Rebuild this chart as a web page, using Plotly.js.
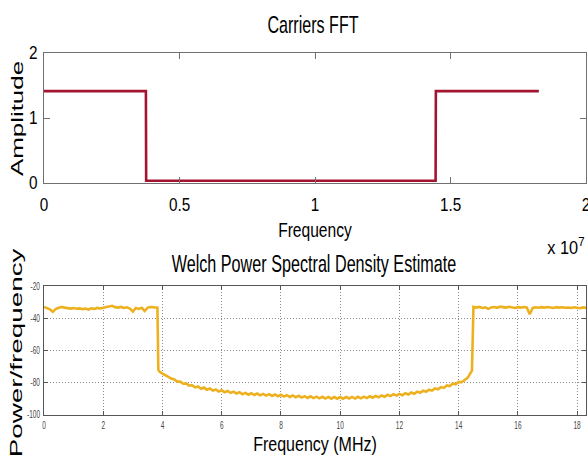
<!DOCTYPE html>
<html>
<head>
<meta charset="utf-8">
<script src="https://cdn.plot.ly/plotly-3.0.1.min.js"></script>
<style>
html,body{margin:0;padding:0;background:#fff;overflow:hidden;}
#chart{width:588px;height:459px;}
</style>
</head>
<body>
<div id="chart"></div>
<script>
// ---- Data: Carriers FFT (step spectrum) ----
const fftFreq = [0, 3.76e6, 3.77e6, 1.445e7, 1.446e7, 1.826e7];
const fftAmp  = [1.414, 1.414, 0.035, 0.035, 1.414, 1.414];
const fftTickVals = [0, 5e6, 1e7, 1.5e7, 2e7];
const fftTickText = ['0', '0.5', '1', '1.5', '2'];
const ampTickVals = [0, 1, 2];

// ---- Data: Welch PSD (MHz, dB/Hz) ----
const psdFreq = [
  0.0,0.1,0.2,0.3,0.4,0.5,0.6,0.7,0.8,0.9,1.0,1.1,1.2,1.3,1.4,1.5,1.6,1.7,1.8,1.9,
  2.0,2.1,2.2,2.3,2.4,2.5,2.6,2.7,2.8,2.9,3.0,3.1,3.2,3.3,3.4,3.5,3.6,3.7,3.8,3.83,3.86,
  3.9,4.0,4.1,4.2,4.3,4.4,4.5,4.6,4.7,4.8,4.9,5.0,5.1,5.2,5.3,5.4,5.5,5.6,5.7,5.8,5.9,
  6.0,6.1,6.2,6.3,6.4,6.5,6.6,6.7,6.8,6.9,7.0,7.1,7.2,7.3,7.4,7.5,7.6,7.7,7.8,7.9,
  8.0,8.1,8.2,8.3,8.4,8.5,8.6,8.7,8.8,8.9,9.0,9.1,9.2,9.3,9.4,9.5,9.6,9.7,9.8,9.9,
  10.0,10.1,10.2,10.3,10.4,10.5,10.6,10.7,10.8,10.9,11.0,11.1,11.2,11.3,11.4,11.5,11.6,11.7,11.8,11.9,
  12.0,12.1,12.2,12.3,12.4,12.5,12.6,12.7,12.8,12.9,13.0,13.1,13.2,13.3,13.4,13.5,13.6,13.7,13.8,13.9,
  14.0,14.1,14.2,14.3,14.4,14.45,14.5,
  14.6,14.7,14.8,14.9,15.0,15.1,15.2,15.3,15.4,15.5,15.6,15.7,15.8,15.9,
  16.0,16.1,16.2,16.3,16.4,16.5,16.6,16.7,16.8,16.9,17.0,17.1,17.2,17.3,17.4,17.5,17.6,17.7,17.8,17.9,
  18.0,18.1,18.2,18.3
];
const psdPower = [
  -33.0,-33.8,-34.5,-36.0,-34.2,-33.5,-33.0,-33.4,-33.8,-34.0,-33.7,-34.1,-33.9,-34.3,-34.0,-34.6,-33.8,-34.2,-33.6,-33.9,
  -33.5,-33.2,-33.0,-32.3,-33.1,-33.4,-33.0,-33.6,-33.2,-34.0,-35.8,-33.6,-34.2,-33.5,-35.5,-33.4,-33.0,-33.2,-33.0,-33.5,-72.0,
  -73.0,-74.3,-75.6,-76.4,-77.4,-78.0,-79.3,-79.3,-80.6,-80.4,-81.8,-81.6,-82.9,-82.3,-83.7,-83.0,-84.3,-83.6,-84.9,-84.2,-85.5,
  -84.7,-85.9,-85.1,-86.3,-85.5,-86.7,-85.9,-87.1,-86.3,-87.4,-86.5,-87.6,-86.7,-87.8,-86.9,-88.0,-87.1,-88.2,-87.3,-88.4,
  -87.5,-88.6,-87.7,-88.8,-87.9,-89.0,-88.1,-89.2,-88.3,-89.4,-88.4,-89.5,-88.6,-89.7,-88.7,-89.8,-88.8,-89.9,-88.9,-89.9,
  -88.9,-89.9,-88.9,-89.8,-88.8,-89.8,-88.7,-89.7,-88.6,-89.5,-88.4,-89.3,-88.2,-89.0,-87.9,-88.7,-87.5,-88.3,-87.1,-88.0,
  -86.9,-87.7,-86.5,-87.3,-86.1,-86.8,-85.5,-86.2,-84.9,-85.6,-84.3,-84.9,-83.5,-84.1,-82.7,-83.2,-81.7,-82.1,-80.5,-81.0,
  -79.5,-79.7,-78.1,-77.0,-74.0,-72.5,-33.0,
  -33.4,-33.0,-33.6,-33.2,-34.2,-33.3,-33.0,-33.5,-32.8,-33.1,-33.4,-32.9,-33.2,-33.6,
  -33.1,-33.4,-33.0,-33.3,-37.5,-33.6,-33.2,-33.5,-33.1,-33.4,-33.0,-33.3,-33.6,-33.1,-33.4,-33.2,-33.5,-33.3,-33.6,-33.2,
  -33.5,-33.8,-33.3,-33.6
];
const psdXTicks = [0, 2, 4, 6, 8, 10, 12, 14, 16, 18];
const psdXText = ['0', '2', '4', '6', '8', '10', '12', '14', '16', '18'];
const psdYTicks = [-100, -80, -60, -40, -20];
const psdYText = ['-100', '-80', '-60', '-40', '-20'];

const SANS = '"Liberation Sans", Arial, Helvetica, sans-serif';
const AX = '#707070';

const traces = [
  {x: fftFreq, y: fftAmp, xaxis: 'x', yaxis: 'y', type: 'scatter', mode: 'lines',
   line: {color: '#A2142F', width: 2.6}, hoverinfo: 'skip'},
  {x: psdFreq, y: psdPower, xaxis: 'x2', yaxis: 'y2', type: 'scatter', mode: 'lines',
   line: {color: '#EDB120', width: 2.6}, hoverinfo: 'skip'}
];

const layout = {
  width: 588, height: 459,
  margin: {l: 44, r: 2, t: 0, b: 0},
  paper_bgcolor: '#fff', plot_bgcolor: '#fff',
  showlegend: false,
  font: {family: SANS, color: '#000'},
  title: {text: 'Carriers FFT', font: {family: SANS, size: 24, color: '#000'},
          x: 0.5, xref: 'paper', y: 0.95, yref: 'container', yanchor: 'middle'},
  xaxis: {domain: [0, 1], anchor: 'y', range: [0, 2e7],
          tickmode: 'array', tickvals: fftTickVals, ticktext: fftTickText,
          ticks: 'inside', ticklen: 6, tickcolor: AX, tickwidth: 1,
          showline: true, linecolor: AX, linewidth: 1, mirror: 'ticks',
          showgrid: false, zeroline: false, ticklabelstandoff: 5,
          ticklabeloverflow: 'allow',
          tickfont: {family: SANS, size: 18, color: '#000'},
          title: {text: 'Frequency', font: {family: SANS, size: 20, color: '#000'}, standoff: 6}},
  yaxis: {domain: [0.6013, 0.8845], anchor: 'x', range: [0, 2],
          tickmode: 'array', tickvals: ampTickVals,
          ticks: 'inside', ticklen: 6, tickcolor: AX, tickwidth: 1,
          showline: true, linecolor: AX, linewidth: 1, mirror: 'ticks',
          showgrid: false, zeroline: false, ticklabelstandoff: 2,
          tickfont: {family: SANS, size: 18, color: '#000'},
          title: {text: 'Amplitude', font: {family: SANS, size: 16, color: '#000'}, standoff: 2}},
  xaxis2: {domain: [0, 1], anchor: 'y2', range: [0, 18.3],
           tickmode: 'array', tickvals: psdXTicks, ticktext: psdXText,
           ticks: 'inside', ticklen: 4, tickcolor: '#555', tickwidth: 1,
           showline: true, linecolor: '#555', linewidth: 1, mirror: 'ticks',
           showgrid: true, gridcolor: '#8a8a8a', gridwidth: 1, griddash: '1px,2px',
           zeroline: false, ticklabelstandoff: 1, ticklabeloverflow: 'allow',
           tickfont: {family: SANS, size: 10, color: '#444'},
           title: {text: 'Frequency (MHz)', font: {family: SANS, size: 20, color: '#000'}, standoff: 4}},
  yaxis2: {domain: [0.0959, 0.3769], anchor: 'x2', range: [-100, -20],
           tickmode: 'array', tickvals: psdYTicks, ticktext: psdYText,
           ticks: 'inside', ticklen: 4, tickcolor: '#555', tickwidth: 1,
           showline: true, linecolor: '#555', linewidth: 1, mirror: 'ticks',
           showgrid: true, gridcolor: '#8a8a8a', gridwidth: 1, griddash: '1px,2px',
           zeroline: false, ticklabelstandoff: 1, ticklabeloverflow: 'allow',
           tickfont: {family: SANS, size: 10, color: '#444'},
           title: {text: 'Power/frequency', font: {family: SANS, size: 16, color: '#000'}, standoff: 2}},
  annotations: [
    {text: 'Welch Power Spectral Density Estimate', xref: 'paper', yref: 'paper',
     x: 0.5, y: 0.4248, xanchor: 'center', yanchor: 'middle', showarrow: false,
     font: {family: SANS, size: 24, color: '#000'}},
    {text: 'x 10<sup>7</sup>', xref: 'paper', yref: 'paper',
     x: 0.999, y: 0.438, xanchor: 'right', yanchor: 'bottom', showarrow: false,
     font: {family: SANS, size: 19, color: '#000'}}
  ]
};

function place(el, sx, sy, cx, cy) {
  if (!el) return;
  const base = el.getAttribute('transform') || '';
  const x = parseFloat(el.getAttribute('x')) || 0;
  const y = parseFloat(el.getAttribute('y')) || 0;
  const t = base + ' translate(' + x + ',' + y + ') scale(' + sx + ',' + sy + ') translate(' + (-x) + ',' + (-y) + ')';
  el.setAttribute('transform', t);
  if (cx === undefined) return;
  const r = el.getBoundingClientRect();
  const dx = cx - (r.left + r.width / 2);
  const dy = cy - (r.top + r.height / 2);
  el.setAttribute('transform', 'translate(' + dx + ',' + dy + ') ' + t);
}

Plotly.newPlot('chart', traces, layout, {displayModeBar: false, staticPlot: true}).then(function (gd) {
  const q = s => gd.querySelector(s);
  place(q('text.gtitle'), 0.67, 1, 313, 24.6);
  place(q('text.xtitle'), 0.78, 1, 315, 230.3);
  place(q('text.x2title'), 0.8, 1, 315, 444);
  place(q('text.ytitle'), 1.62, 1, 18, 118.5);
  place(q('text.y2title'), 1.74, 1, 16, 352.5);
  gd.querySelectorAll('text.annotation-text').forEach(function (el) {
    if (el.textContent.indexOf('Welch') === 0) place(el, 0.674, 1, 314, 263.6);
    else place(el, 0.86, 1, 566, 246.5);
  });
  gd.querySelectorAll('g.xtick text, g.ytick text').forEach(function (el) { place(el, 0.85, 1); });
  gd.querySelectorAll('g.x2tick text, g.y2tick text').forEach(function (el) { place(el, 0.65, 1); });
});
</script>
</body>
</html>
